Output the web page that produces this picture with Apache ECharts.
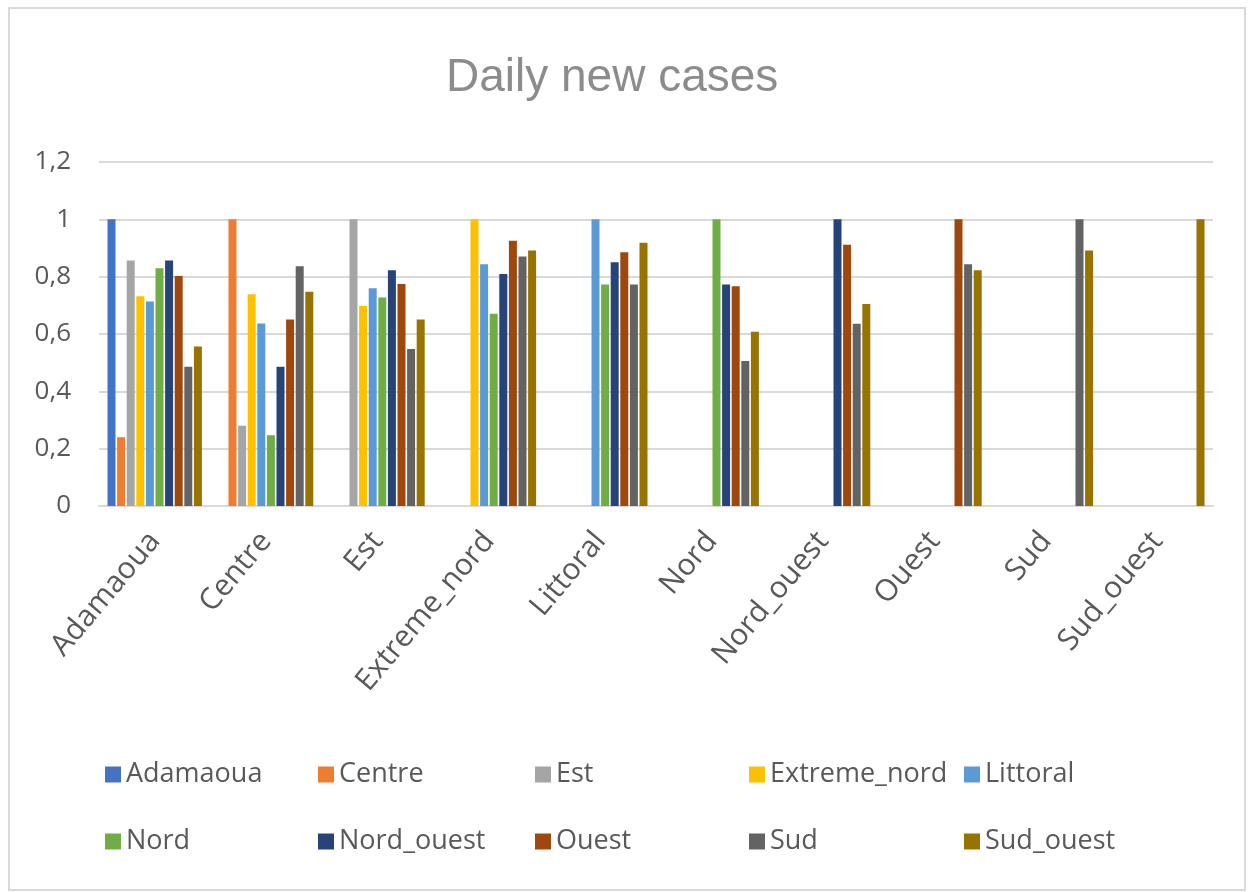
<!DOCTYPE html>
<html>
<head>
<meta charset="utf-8">
<script src="https://cdn.jsdelivr.net/npm/echarts@6/dist/echarts.min.js"></script>
<style>
html,body{margin:0;padding:0;background:#fff;}
#chart{width:1248px;height:892px;}
</style>
</head>
<body>
<div id="chart"></div>
<script>
// Categories (regions)
const categories = ['Adamaoua','Centre','Est','Extreme_nord','Littoral','Nord','Nord_ouest','Ouest','Sud','Sud_ouest'];
const yTicks = [0, 0.2, 0.4, 0.6, 0.8, 1, 1.2];

// Series values (one per region, across categories; null = no bar)
const adamaoua   = [1,     null,  null,  null,  null,  null,  null,  null,  null,  null];
const centre     = [0.24,  1,     null,  null,  null,  null,  null,  null,  null,  null];
const est        = [0.856, 0.28,  1,     null,  null,  null,  null,  null,  null,  null];
const extremeNord= [0.732, 0.739, 0.698, 1,     null,  null,  null,  null,  null,  null];
const littoral   = [0.713, 0.637, 0.76,  0.843, 1,     null,  null,  null,  null,  null];
const nord       = [0.829, 0.247, 0.727, 0.671, 0.773, 1,     null,  null,  null,  null];
const nordOuest  = [0.856, 0.486, 0.822, 0.809, 0.85,  0.773, 1,     null,  null,  null];
const ouest      = [0.802, 0.651, 0.774, 0.925, 0.885, 0.767, 0.911, 1,     null,  null];
const sud        = [0.486, 0.836, 0.548, 0.87,  0.773, 0.506, 0.636, 0.843, 1,     null];
const sudOuest   = [0.556, 0.747, 0.651, 0.891, 0.918, 0.608, 0.705, 0.822, 0.891, 1];

const seriesNames = ['Adamaoua','Centre','Est','Extreme_nord','Littoral','Nord','Nord_ouest','Ouest','Sud','Sud_ouest'];
const seriesData = [adamaoua, centre, est, extremeNord, littoral, nord, nordOuest, ouest, sud, sudOuest];
const colors = ['#4472C4','#ED7D31','#A5A5A5','#FFC000','#5B9BD5','#70AD47','#264478','#9E480E','#636363','#997300'];

const chart = echarts.init(document.getElementById('chart'));
const legendLeft = [105, 318, 535, 749, 964];
const legendTop = [761, 828];
const legends = seriesNames.map((n, i) => ({
  data: [n],
  left: legendLeft[i % 5],
  top: legendTop[Math.floor(i / 5)],
  padding: 0,
  itemWidth: 16,
  itemHeight: 16,
  icon: 'rect',
  selectedMode: false,
  textStyle: {fontFamily: 'Open Sans', fontSize: 27, color: '#595959'}
}));

chart.setOption({
  animation: false,
  color: colors,
  title: {
    text: 'Daily new cases',
    left: 441,
    top: 50,
    textStyle: {fontFamily: 'Liberation Sans, Arial, sans-serif', fontSize: 46, fontWeight: 'normal', color: '#8c8c8c'}
  },
  graphic: [{
    type: 'rect', shape: {x: 9, y: 8, width: 1236, height: 882},
    style: {fill: 'none', stroke: '#d9d9d9', lineWidth: 2}, silent: true, z: -1
  }],
  legend: legends,
  grid: {left: 99, right: 35, top: 162, bottom: 386},
  xAxis: {
    type: 'category',
    data: categories,
    axisTick: {show: false},
    axisLine: {lineStyle: {color: '#d9d9d9', width: 2}},
    axisLabel: {rotate: 50, fontFamily: 'Open Sans', fontSize: 30, color: '#595959', margin: 30, interval: 0}
  },
  yAxis: {
    type: 'value',
    min: 0, max: 1.2, interval: 0.2,
    axisLine: {show: false},
    axisTick: {show: false},
    splitLine: {lineStyle: {color: '#d9d9d9', width: 2}},
    axisLabel: {
      fontFamily: 'Open Sans', fontSize: 26, color: '#595959', margin: 28,
      formatter: v => {
        const t = yTicks.find(x => Math.abs(x - v) < 1e-9);
        return String(t !== undefined ? t : v).replace('.', ',');
      }
    }
  },
  series: seriesNames.map((n, i) => ({
    name: n,
    type: 'bar',
    data: seriesData[i],
    barWidth: 8,
    barGap: '20%'
  }))
});
</script>
</body>
</html>
